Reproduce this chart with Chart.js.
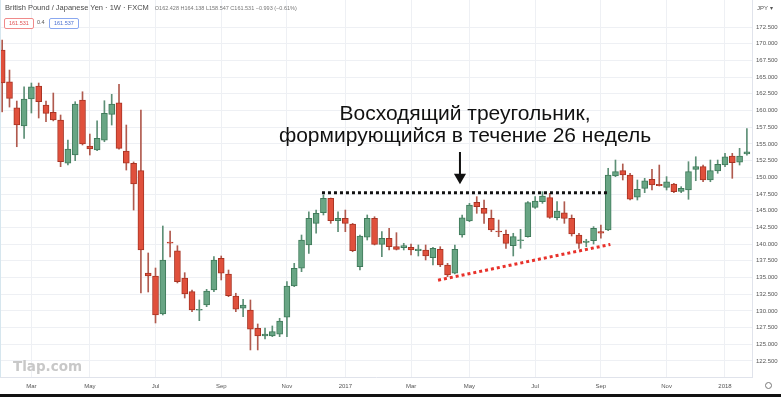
<!DOCTYPE html>
<html><head><meta charset="utf-8">
<script src="https://cdn.jsdelivr.net/npm/chart.js@4"></script>
<style>
html,body{margin:0;padding:0;background:#fff;width:781px;height:397px;overflow:hidden;position:relative;font-family:"Liberation Sans",Arial,sans-serif}
#wrap{position:absolute;left:0;top:0;width:781px;height:394px}
#bottom{position:absolute;left:0;top:394px;width:781px;height:3px;background:#111}
.lg1{position:absolute;left:5px;top:3px;font-size:7.5px;color:#4a4a4a;white-space:nowrap}
.lg1 span{font-size:5.5px;color:#777;margin-left:6px}
.box{position:absolute;top:18px;height:9px;line-height:9px;font-size:5.5px;padding:0 4px;border-radius:2px;background:#fff}
.b1{left:4px;border:1px solid #f08a8a;color:#e05050}
.b2{left:49px;border:1px solid #8aa8f0;color:#4a70d0}
.spr{position:absolute;left:37px;top:19px;font-size:5.5px;color:#555}
.note{position:absolute;left:215px;width:500px;text-align:center;font-size:21px;line-height:24px;color:#111;white-space:nowrap}
.wm{position:absolute;left:13px;top:358px;font-size:13.5px;font-weight:bold;color:#c8c8c8;font-family:"DejaVu Sans",sans-serif}
.jpy{position:absolute;left:757px;top:4px;font-size:6px;color:#555}
.gear{position:absolute;left:765px;top:382px;width:5px;height:5px;border:1.5px solid #777;border-radius:50%}
.ledge{position:absolute;left:0;top:0;width:1px;height:377px;background:#d6e6ee}
</style></head><body>
<div id="wrap"><canvas id="c" width="781" height="394"></canvas></div>
<div class="ledge"></div>
<div id="bottom"></div>
<div class="lg1">British Pound / Japanese Yen · 1W · FXCM<span>O162.428 H164.138 L158.547 C161.531 −0.993 (−0.61%)</span></div>
<div class="box b1">161.531</div><div class="spr">0.4</div><div class="box b2">161.537</div>
<div class="note" style="top:101px">Восходящий треугольник,</div>
<div class="note" style="top:123px">формирующийся в течение 26 недель</div>
<div class="wm">Tlap.com</div>
<div class="jpy">JPY ▾</div>
<div class="gear"></div>
<script>
const weeks = ['2016-02-08','2016-02-15','2016-02-22','2016-02-29','2016-03-07','2016-03-14','2016-03-21','2016-03-28','2016-04-04','2016-04-11','2016-04-18','2016-04-25','2016-05-02','2016-05-09','2016-05-16','2016-05-23','2016-05-30','2016-06-06','2016-06-13','2016-06-20','2016-06-27','2016-07-04','2016-07-11','2016-07-18','2016-07-25','2016-08-01','2016-08-08','2016-08-15','2016-08-22','2016-08-29','2016-09-05','2016-09-12','2016-09-19','2016-09-26','2016-10-03','2016-10-10','2016-10-17','2016-10-24','2016-10-31','2016-11-07','2016-11-14','2016-11-21','2016-11-28','2016-12-05','2016-12-12','2016-12-19','2016-12-26','2017-01-02','2017-01-09','2017-01-16','2017-01-23','2017-01-30','2017-02-06','2017-02-13','2017-02-20','2017-02-27','2017-03-06','2017-03-13','2017-03-20','2017-03-27','2017-04-03','2017-04-10','2017-04-17','2017-04-24','2017-05-01','2017-05-08','2017-05-15','2017-05-22','2017-05-29','2017-06-05','2017-06-12','2017-06-19','2017-06-26','2017-07-03','2017-07-10','2017-07-17','2017-07-24','2017-07-31','2017-08-07','2017-08-14','2017-08-21','2017-08-28','2017-09-04','2017-09-11','2017-09-18','2017-09-25','2017-10-02','2017-10-09','2017-10-16','2017-10-23','2017-10-30','2017-11-06','2017-11-13','2017-11-20','2017-11-27','2017-12-04','2017-12-11','2017-12-18','2017-12-25','2018-01-01','2018-01-08','2018-01-15','2018-01-22'];
const opens  = [169.06,164.31,160.42,157.68,161.72,163.67,160.82,159.73,158.58,152.10,153.34,161.57,154.69,154.09,155.58,159.43,161.17,153.94,152.10,150.99,135.67,135.22,129.54,140.30,139.01,134.93,132.88,130.09,130.88,133.13,137.87,135.52,132.23,130.39,130.13,127.40,126.24,126.24,126.50,129.04,133.73,136.38,139.87,143.11,144.70,146.86,143.50,143.86,143.01,136.62,141.02,143.86,139.97,140.87,139.61,139.48,139.52,139.02,139.12,137.97,139.22,136.87,135.63,141.36,143.46,146.26,145.36,143.86,141.96,141.47,139.76,140.50,141.11,145.51,146.35,146.95,143.95,144.70,143.86,141.36,140.24,140.51,141.86,142.11,150.20,150.99,150.35,147.01,148.35,149.70,148.95,148.50,149.00,147.90,148.10,151.20,151.59,149.60,150.94,151.84,153.19,152.25,153.49];
const highs  = [170.55,166.06,161.42,163.56,164.12,164.12,161.42,162.62,159.33,155.58,161.32,162.81,156.48,158.47,161.47,162.43,163.92,157.83,152.30,160.07,138.67,136.42,142.71,141.96,139.76,135.72,133.10,131.63,133.23,138.12,138.22,136.12,132.64,131.74,131.63,128.04,127.44,127.74,128.89,134.37,137.12,141.36,144.85,145.10,147.35,146.90,144.85,145.10,143.10,141.36,144.36,144.10,141.86,142.37,141.71,140.12,140.01,139.87,139.87,139.52,139.61,137.12,139.87,144.36,146.10,147.10,146.60,145.10,143.61,142.11,141.62,142.21,146.35,147.10,147.85,147.60,146.35,146.35,144.36,141.62,140.72,142.61,142.86,151.35,152.59,152.00,150.60,149.60,149.85,151.20,151.84,150.10,149.10,148.60,152.34,153.08,151.84,152.59,152.59,153.59,153.59,154.34,157.30];
const lows   = [159.80,160.52,154.58,155.84,159.63,158.88,158.32,158.45,151.59,151.84,152.49,154.84,153.34,153.98,155.33,157.83,154.20,151.09,145.10,132.68,132.83,128.19,129.39,138.07,134.18,131.93,129.88,128.53,130.63,132.88,134.63,132.13,129.88,129.13,124.15,124.15,125.80,126.14,126.14,126.14,133.63,135.87,138.62,141.62,144.36,143.11,141.86,141.86,138.86,136.12,140.61,139.87,138.12,139.12,139.12,139.12,138.37,138.22,137.62,136.87,136.62,135.12,135.52,141.02,143.36,144.61,143.11,141.86,141.11,139.37,138.22,139.37,141.02,145.36,146.10,143.86,143.61,143.11,141.21,139.37,139.61,140.01,140.87,142.01,150.10,149.60,146.60,146.60,147.70,148.10,148.70,148.10,147.70,147.70,146.71,149.49,149.34,149.34,150.60,151.59,149.85,151.84,153.30];
const closes = [164.12,161.83,157.83,161.72,163.56,161.32,159.58,158.58,152.34,154.24,160.97,154.99,154.24,155.84,159.58,160.97,154.34,152.10,149.00,139.12,135.22,129.39,137.62,140.15,134.37,132.53,130.13,130.24,132.98,137.62,135.63,132.28,130.24,130.88,127.25,126.24,126.54,126.89,128.49,133.73,136.38,140.61,143.86,144.61,146.86,143.50,143.86,143.11,139.01,141.21,143.86,139.97,140.87,139.61,139.22,139.76,139.12,139.27,138.22,139.37,136.87,135.37,139.22,143.95,145.85,145.60,144.61,142.11,141.81,140.12,141.11,140.60,146.20,146.45,147.20,144.01,144.95,143.86,141.51,140.12,140.47,142.37,141.62,150.35,150.84,150.35,146.71,148.20,149.49,148.85,148.75,149.34,147.85,148.35,150.84,151.59,149.60,150.99,151.95,153.08,152.19,153.19,153.80];
const yTicks = [122.5,125,127.5,130,132.5,135,137.5,140,142.5,145,147.5,150,152.5,155,157.5,160,162.5,165,167.5,170,172.5];
const tickWeeks  = ['2016-03-07','2016-05-02','2016-07-04','2016-09-05','2016-11-07','2017-01-02','2017-03-06','2017-05-01','2017-07-03','2017-09-04','2017-11-06','2018-01-01'];
const tickLabels = ['Mar','May','Jul','Sep','Nov','2017','Mar','May','Jul','Sep','Nov','2018'];
const resistanceX = [43.8, 83.0], resistanceY = [147.7, 147.7];
const supportX = [59.7, 83.3], supportY = [134.6, 139.95];
const arrowX = [62.7, 62.7], arrowY = [153.8, 150.0];

const up = weeks.map((w,i)=>closes[i]>=opens[i]);
const bodyData = weeks.map((w,i)=>({x:i, y:[opens[i], closes[i]]}));
const wickData = weeks.map((w,i)=>({x:i, y:[lows[i], highs[i]]}));
const tickIdx = tickWeeks.map(d=>weeks.indexOf(d));

new Chart(document.getElementById('c'), {
  type:'bar',
  data:{datasets:[
    {type:'line', data:resistanceX.map((x,i)=>({x, y:resistanceY[i]})), borderColor:'#111', borderWidth:3, borderDash:[3,3], pointRadius:0, order:0},
    {type:'line', data:supportX.map((x,i)=>({x, y:supportY[i]})), borderColor:'#e8312a', borderWidth:3, borderDash:[3,3], pointRadius:0, order:0},
    {type:'line', data:arrowX.map((x,i)=>({x, y:arrowY[i]})), borderColor:'#111', borderWidth:2, pointRadius:[0,5], pointStyle:'triangle', pointRotation:180, pointBackgroundColor:'#111', pointBorderColor:'#111', order:0},
    {data:bodyData, grouped:false, barThickness:6, minBarLength:1, borderWidth:1, borderSkipped:false,
      backgroundColor: up.map(u=>u?'#68a584':'#e0503c'), borderColor: up.map(u=>u?'#3f7a5a':'#a83424'), order:1},
    {data:wickData, grouped:false, barThickness:1, borderWidth:0,
      backgroundColor: up.map(u=>u?'#5d8f76':'#b05a4e'), order:2}
  ]},
  options:{
    responsive:false, animation:false, devicePixelRatio:1,
    layout:{padding:0, autoPadding:false},
    plugins:{legend:{display:false}, tooltip:{enabled:false}},
    scales:{
      x:{type:'linear', min:-0.3, max:102.7, offset:false, position:'bottom',
        grid:{offset:false, color:'#eef0f4', drawTicks:false},
        border:{color:'#e0e3eb'},
        afterFit:s=>{s.height=17; s.paddingLeft=0; s.paddingRight=0;},
        afterBuildTicks:s=>{s.ticks = tickIdx.map(v=>({value:v}));},
        ticks:{autoSkip:false, maxRotation:0, padding:6, color:'#555', font:{size:6, family:'Liberation Sans'},
          callback:(v)=>{const k=tickIdx.indexOf(v); return k>=0?tickLabels[k]:'';}}
      },
      y:{type:'linear', position:'right', min:120.1, max:176.55,
        grid:{color:'#eef0f4', drawTicks:false},
        border:{color:'#e0e3eb'},
        afterFit:s=>{s.width=29; s.paddingTop=0; s.paddingBottom=0;},
        afterBuildTicks:s=>{s.ticks = yTicks.map(v=>({value:v}));},
        ticks:{padding:4, color:'#555', font:{size:6, family:'Liberation Sans'}, callback:v=>Number(v).toFixed(3)}
      }
    }
  }
});
</script>
</body></html>
